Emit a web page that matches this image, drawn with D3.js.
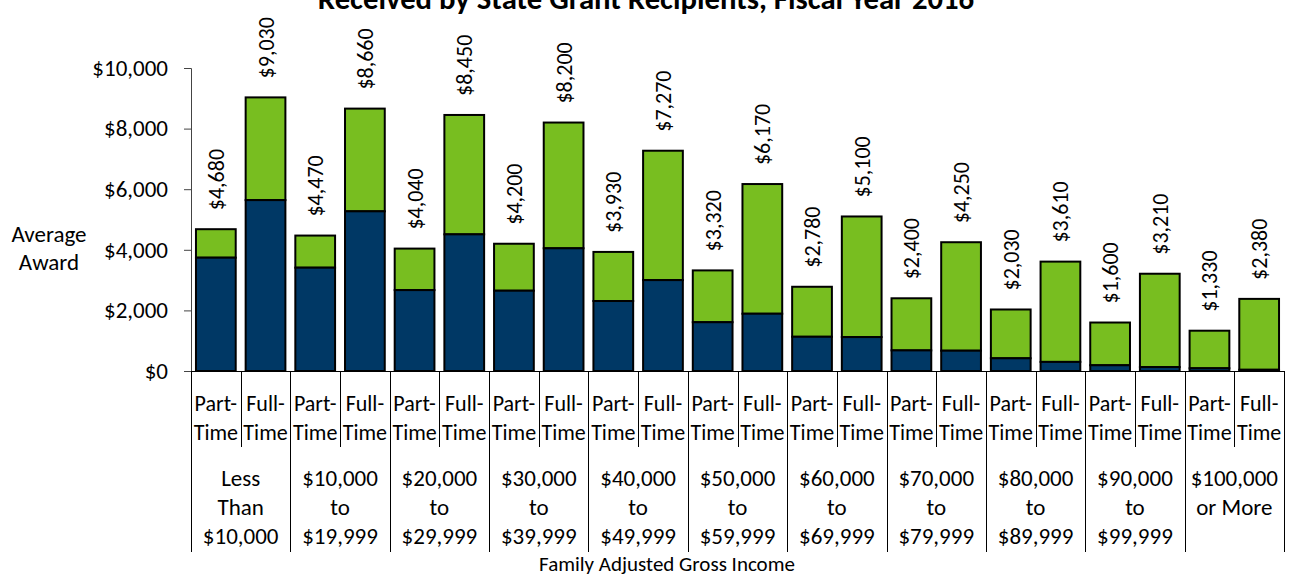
<!DOCTYPE html>
<html>
<head>
<meta charset="utf-8">
<script src="https://cdn.jsdelivr.net/npm/d3@7/dist/d3.min.js"></script>
<style>
  body { margin: 0; background: #fff; }
  svg text { font-family: Carlito, Calibri, "Open Sans", sans-serif; font-weight: normal; fill: #000; }
</style>
</head>
<body>
<div id="chart"></div>
<script>
// income brackets (each one has a part-time and a full-time bar)
var groups = [
  ["Less", "Than", "$10,000"],
  ["$10,000", "to", "$19,999"],
  ["$20,000", "to", "$29,999"],
  ["$30,000", "to", "$39,999"],
  ["$40,000", "to", "$49,999"],
  ["$50,000", "to", "$59,999"],
  ["$60,000", "to", "$69,999"],
  ["$70,000", "to", "$79,999"],
  ["$80,000", "to", "$89,999"],
  ["$90,000", "to", "$99,999"],
  ["$100,000", "or More"]
];
var statuses = ["Part-Time", "Full-Time"];

// navy segment and labelled totals, in bar order
var baseAward = [3740, 5640, 3410, 5270, 2670, 4510, 2650, 4050, 2310, 3000, 1610,
                 1890, 1130, 1120, 680, 670, 420, 300, 190, 130, 90, 40];
var totalAward = [4680, 9030, 4470, 8660, 4040, 8450, 4200, 8200, 3930, 7270, 3320,
                  6170, 2780, 5100, 2400, 4250, 2030, 3610, 1600, 3210, 1330, 2380];

var yTicks = [0, 2000, 4000, 6000, 8000, 10000];

var W = 1293, H = 576;
var margin = { top: 68, left: 191, right: 9, bottom: 205 };
var plotW = W - margin.left - margin.right;
var plotH = H - margin.top - margin.bottom;

var bars = [];
groups.forEach(function(g, gi) {
  statuses.forEach(function(s, si) {
    var i = gi * 2 + si;
    bars.push({ key: i, group: gi, status: s, base: baseAward[i], total: totalAward[i] });
  });
});

var svg = d3.select("#chart").append("svg")
  .attr("width", W).attr("height", H);

var g = svg.append("g")
  .attr("transform", "translate(" + margin.left + "," + margin.top + ")");

var x = d3.scaleBand()
  .domain(bars.map(d => d.key))
  .range([0, plotW])
  .paddingInner(0.2)
  .paddingOuter(0.1);

var y = d3.scaleLinear().domain([0, 10000]).range([plotH, 0]);

// title (its upper part runs off the top of the page, as in the source)
var title = svg.append("text")
  .attr("x", 646).attr("y", 9)
  .attr("text-anchor", "middle")
  .style("font-size", "26px").style("font-weight", "bold")
  .text("Received by State Grant Recipients, Fiscal Year 2016");
var tw = title.node().getComputedTextLength();
title.style("font-size", (26 * 657 / tw).toFixed(1) + "px");

// y axis
var yAxis = d3.axisLeft(y)
  .tickValues(yTicks)
  .tickSize(7)
  .tickFormat(d => "$" + d3.format(",")(d));

g.append("g")
  .attr("class", "y-axis")
  .call(yAxis)
  .call(a => a.select(".domain").attr("stroke", "#444").attr("d", "M-7,0.5H0.5V" + plotH))
  .call(a => a.selectAll(".tick line").attr("stroke", "#444"))
  .call(a => a.selectAll(".tick text").attr("x", -23)
    .style("font-size", "23px").style("font-family", null));

svg.append("text")
  .attr("text-anchor", "middle")
  .style("font-size", "23px")
  .selectAll("tspan")
  .data(["Average", "Award"])
  .join("tspan")
  .attr("x", 49)
  .attr("y", (d, i) => 242 + i * 28)
  .text(d => d);

// stacked bars
var bar = g.selectAll(".bar")
  .data(bars)
  .join("g")
  .attr("class", "bar");

bar.append("rect")
  .attr("x", d => x(d.key))
  .attr("width", x.bandwidth())
  .attr("y", d => y(d.total))
  .attr("height", d => y(d.base) - y(d.total))
  .attr("fill", "#78be20")
  .attr("stroke", "#000")
  .attr("stroke-width", 2);

bar.append("rect")
  .attr("x", d => x(d.key))
  .attr("width", x.bandwidth())
  .attr("y", d => y(d.base))
  .attr("height", d => y(0) - y(d.base))
  .attr("fill", "#003865")
  .attr("stroke", "#000")
  .attr("stroke-width", 2);

// rotated total labels
bar.append("text")
  .attr("transform", d => "translate(" + (x(d.key) + x.bandwidth() / 2 + 8) + "," + (y(d.total) - 19) + ") rotate(-90)")
  .attr("text-anchor", "start")
  .style("font-size", "22px")
  .text(d => "$" + d3.format(",")(d.total));

// category axis: baseline, dividers and labels
var step = x.step();
var slotStart = i => x(i) - x.paddingInner() * step / 2;
var row1 = plotH + 76, row2 = plotH + 181;

g.append("line")
  .attr("x1", 0).attr("x2", plotW)
  .attr("y1", plotH + 0.5).attr("y2", plotH + 0.5)
  .attr("stroke", "#000");

d3.range(bars.length + 1).forEach(function(i) {
  var px = i === 0 ? 0 : (i === bars.length ? plotW : slotStart(i));
  g.append("line")
    .attr("x1", Math.round(px) + 0.5).attr("x2", Math.round(px) + 0.5)
    .attr("y1", plotH).attr("y2", i % 2 === 0 ? row2 : row1)
    .attr("stroke", "#000");
});

bar.append("text")
  .attr("text-anchor", "middle")
  .style("font-size", "22px")
  .selectAll("tspan")
  .data(d => {
    var cx = x(d.key) + x.bandwidth() / 2;
    var parts = d.status.split("-");
    return [parts[0] + "-", parts[1]].map(t => ({ t: t, cx: cx }));
  })
  .join("tspan")
  .attr("x", d => d.cx)
  .attr("y", (d, i) => plotH + 40 + i * 29)
  .text(d => d.t);

g.selectAll(".group-label")
  .data(groups)
  .join("text")
  .attr("class", "group-label")
  .attr("text-anchor", "middle")
  .style("font-size", "23px")
  .each(function(lines, gi) {
    var cx = slotStart(gi * 2) + step;
    d3.select(this).selectAll("tspan")
      .data(lines)
      .join("tspan")
      .attr("x", cx)
      .attr("y", (d, i) => plotH + 115 + i * 29)
      .text(d => d);
  });

svg.append("text")
  .attr("x", 667).attr("y", 571)
  .attr("text-anchor", "middle")
  .style("font-size", "21px")
  .text("Family Adjusted Gross Income");
</script>
</body>
</html>
